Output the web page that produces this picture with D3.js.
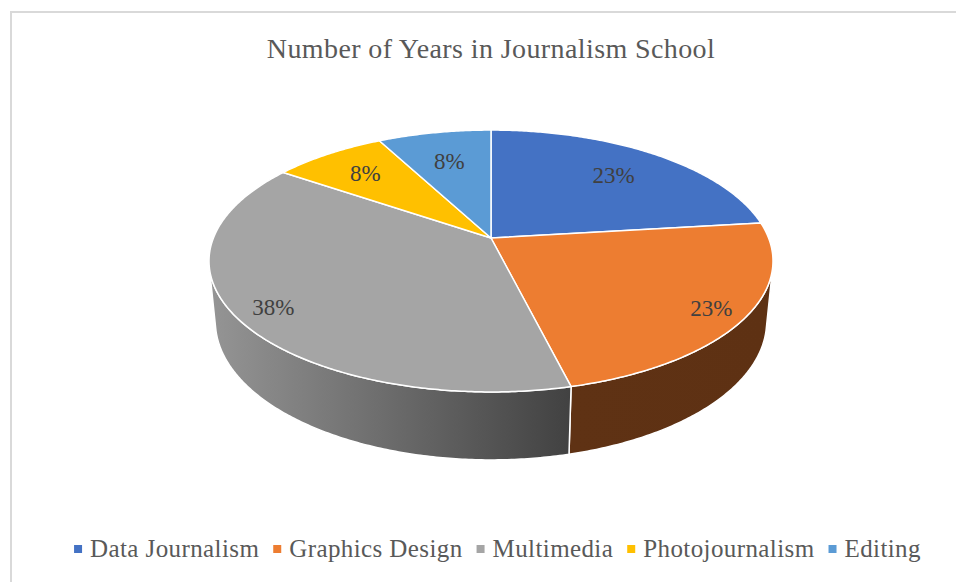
<!DOCTYPE html>
<meta charset="utf-8">
<style>
	body { margin: 0; background: #fff; }
	svg { display: block; }
	text { font-family: "Palatino Linotype", "Book Antiqua", Palatino, "Liberation Serif", serif; }
	.title { font-size: 28px; fill: #595959; letter-spacing: 0.4px; }
	.label { font-size: 23px; fill: #404040; }
	.legend text { font-size: 25px; fill: #595959; letter-spacing: 0.4px; }
	.frame { fill: none; stroke: #d9d9d9; stroke-width: 2; }
</style>
<body></body>
<script src="https://cdn.jsdelivr.net/npm/d3@7"></script>
<script>

	// data
	var categories = ["Data Journalism", "Graphics Design", "Multimedia", "Photojournalism", "Editing"];
	var values = [3, 3, 5, 1, 1];
	var colors = ["#4472c4", "#ed7d31", "#a5a5a5", "#ffc000", "#5b9bd5"];
	var title = "Number of Years in Journalism School";

	var width = 956, height = 582;

	// 3d pie projection (radius = 1 unit)
	var cx = 491, cy = 238;
	var S = 277.6;                 // projected scale
	var phi = 27.2 * Math.PI / 180; // camera tilt
	var k = 0.1975;                // perspective strength
	var thick = 0.247;             // pie depth
	var labelR = [0.73, 0.88, 0.87, 0.75, 0.7];

	function proj(a, r, h) {
		var x = r * Math.sin(a), y = r * Math.cos(a);
		var d = 1 + k * (y * Math.cos(phi) - h * Math.sin(phi));
		return [cx + S * x / d, cy - S * (y * Math.sin(phi) + h * Math.cos(phi)) / d];
	}

	// visible part of the side wall
	var visA = Math.acos(-k / Math.cos(phi));
	var visB = 2 * Math.PI - visA;

	var line = d3.line();

	function arcPts(a0, a1, h) {
		var n = Math.max(2, Math.ceil((a1 - a0) / 0.01));
		return d3.range(n + 1).map(function(i) { return proj(a0 + (a1 - a0) * i / n, 1, h); });
	}

	var svg = d3.select("body").append("svg")
		.attr("width", width)
		.attr("height", height);

	svg.append("rect")
		.attr("class", "frame")
		.attr("x", 11)
		.attr("y", 12)
		.attr("width", width + 10)
		.attr("height", height + 10);

	svg.append("text")
		.attr("class", "title")
		.attr("x", 491)
		.attr("y", 58)
		.attr("text-anchor", "middle")
		.text(title);

	var pie = d3.pie().sort(null).value(function(d) { return d; });
	var arcs = pie(values);

	var defs = svg.append("defs");
	arcs.forEach(function(d, i) {
		var c = d3.color(colors[i]);
		var g = defs.append("linearGradient")
			.attr("id", "side" + i)
			.attr("gradientUnits", "userSpaceOnUse")
			.attr("x1", cx - S).attr("x2", cx + S)
			.attr("y1", 0).attr("y2", 0);
		g.append("stop").attr("offset", 0).attr("stop-color", c.darker(0.3));
		g.append("stop").attr("offset", 0.64).attr("stop-color", c.darker(2.55));
		g.append("stop").attr("offset", 1).attr("stop-color", c.darker(2.6));
	});

	// sides
	var sides = svg.append("g");
	arcs.forEach(function(d, i) {
		var a0 = Math.max(d.startAngle, visA), a1 = Math.min(d.endAngle, visB);
		if (a1 <= a0) return;
		var pts = arcPts(a0, a1, 0).concat(arcPts(a0, a1, -thick).reverse());
		sides.append("path")
			.attr("d", line(pts) + "Z")
			.attr("fill", "url(#side" + i + ")")
			.attr("stroke", "#fff")
			.attr("stroke-width", 1.5)
			.attr("stroke-linejoin", "round");
	});

	// top faces
	svg.append("g").selectAll("path")
		.data(arcs)
		.enter()
		.append("path")
		.attr("d", function(d) { return line([proj(0, 0, 0)].concat(arcPts(d.startAngle, d.endAngle, 0))) + "Z"; })
		.attr("fill", function(d, i) { return colors[i]; })
		.attr("stroke", "#fff")
		.attr("stroke-width", 1.5)
		.attr("stroke-linejoin", "round");

	var total = d3.sum(values);
	var fmt = d3.format(".0%");

	svg.append("g").selectAll("text")
		.data(arcs)
		.enter()
		.append("text")
		.attr("class", "label")
		.attr("text-anchor", "middle")
		.attr("dy", "0.35em")
		.attr("x", function(d, i) { return proj((d.startAngle + d.endAngle) / 2, labelR[i], 0)[0]; })
		.attr("y", function(d, i) { return proj((d.startAngle + d.endAngle) / 2, labelR[i], 0)[1]; })
		.text(function(d) { return fmt(d.value / total); });

	// legend
	var legend = svg.append("g").attr("class", "legend");
	var items = legend.selectAll("g")
		.data(categories)
		.enter()
		.append("g");

	items.append("rect")
		.attr("width", 8)
		.attr("height", 8)
		.attr("y", -12)
		.attr("fill", function(d, i) { return colors[i]; });

	items.append("text")
		.attr("x", 16)
		.text(function(d) { return d; });

	var xpos = 0;
	items.each(function() {
		var w = d3.select(this).select("text").node().getComputedTextLength();
		d3.select(this).attr("data-x", xpos);
		xpos += 16 + w + 14;
	});
	var legendW = xpos - 14;
	var startX = 497.5 - legendW / 2;
	items.attr("transform", function() {
		return "translate(" + (startX + (+d3.select(this).attr("data-x"))) + ",557)";
	});

</script>
